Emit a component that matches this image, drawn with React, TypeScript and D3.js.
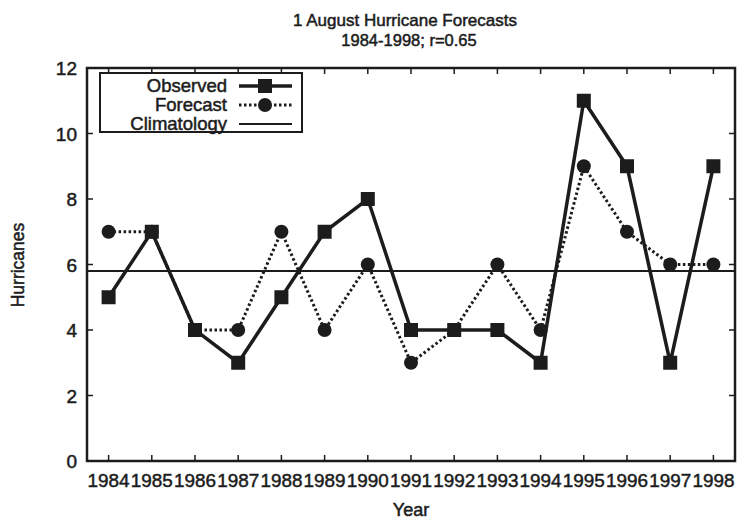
import React, { useRef, useEffect } from "react";
import * as d3 from "d3";

const years = [1984, 1985, 1986, 1987, 1988, 1989, 1990, 1991, 1992, 1993, 1994, 1995, 1996, 1997, 1998];
const observed = [5, 7, 4, 3, 5, 7, 8, 4, 4, 4, 3, 11, 9, 3, 9];
const forecast = [7, 7, 4, 4, 7, 4, 6, 3, 4, 6, 4, 9, 7, 6, 6];
const climatology = 5.8;
const yTicks = [0, 2, 4, 6, 8, 10, 12];
const legendItems = ["Observed", "Forecast", "Climatology"];

const W = 739, H = 521;
const ink = "#1c1c1c";
const font = "'Liberation Sans', Arial, Helvetica, sans-serif";

export default function App() {
  const svgRef = useRef<SVGSVGElement>(null);

  useEffect(() => {
    const svg = d3.select(svgRef.current);
    svg.selectAll("*").remove();
    const m = { left: 87, right: 739 - 735, top: 68, bottom: 521 - 461 };

    const x = d3.scaleLinear().domain([1983.5, 1998.5]).range([m.left, W - m.right]);
    const y = d3.scaleLinear().domain([0, 12]).range([H - m.bottom, m.top]);

    const g = svg.append("g");

    // heavier text, like the scanned original
    const txt = (sel: any, size: number) =>
      sel.style("font", `${size}px ${font}`).attr("fill", ink)
        .attr("stroke", ink).attr("stroke-width", 0.5);

    // titles
    txt(g.append("text").attr("x", 405).attr("y", 26).attr("text-anchor", "middle"), 17)
      .text("1 August Hurricane Forecasts");
    txt(g.append("text").attr("x", 409).attr("y", 46).attr("text-anchor", "middle"), 16.5)
      .text("1984-1998; r=0.65");
    txt(g.append("text").attr("x", 411).attr("y", 516).attr("text-anchor", "middle"), 18)
      .text("Year");
    txt(g.append("text").attr("transform", `translate(24,265) rotate(-90)`).attr("text-anchor", "middle"), 17.5)
      .text("Hurricanes");

    // ticks (inward, all four sides)
    const tl = 6;
    const ticks = g.append("g").attr("stroke", ink).attr("stroke-width", 1.5);
    years.forEach(yr => {
      ticks.append("line").attr("x1", x(yr)).attr("x2", x(yr)).attr("y1", y(0)).attr("y2", y(0) - tl);
      ticks.append("line").attr("x1", x(yr)).attr("x2", x(yr)).attr("y1", y(12)).attr("y2", y(12) + tl);
    });
    yTicks.forEach(v => {
      ticks.append("line").attr("x1", x(1983.5)).attr("x2", x(1983.5) + tl).attr("y1", y(v)).attr("y2", y(v));
      ticks.append("line").attr("x1", x(1998.5)).attr("x2", x(1998.5) - tl).attr("y1", y(v)).attr("y2", y(v));
    });

    // frame
    g.append("rect").attr("x", x(1983.5)).attr("y", y(12))
      .attr("width", x(1998.5) - x(1983.5)).attr("height", y(0) - y(12))
      .attr("fill", "none").attr("stroke", ink).attr("stroke-width", 2.5);

    // tick labels
    txt(g.append("g").selectAll("text").data(years).enter().append("text")
      .attr("x", d => x(d)).attr("y", y(0) + 26).attr("text-anchor", "middle")
      .attr("textLength", 42).attr("lengthAdjust", "spacingAndGlyphs"), 19).text(d => d);
    txt(g.append("g").selectAll("text").data(yTicks).enter().append("text")
      .attr("x", 77).attr("y", d => y(d) + 7).attr("text-anchor", "end"), 19).text(d => d);

    // climatology
    g.append("line").attr("x1", x(1983.5)).attr("x2", x(1998.5))
      .attr("y1", y(climatology)).attr("y2", y(climatology))
      .attr("stroke", ink).attr("stroke-width", 2);

    const line = d3.line<number>().x((_, i) => x(years[i])).y(d => y(d));

    // forecast
    g.append("path").attr("d", line(forecast)).attr("fill", "none")
      .attr("stroke", ink).attr("stroke-width", 3).attr("stroke-dasharray", "2.5,2.5");
    g.append("g").selectAll("circle").data(forecast).enter().append("circle")
      .attr("cx", (_, i) => x(years[i])).attr("cy", d => y(d)).attr("r", 7).attr("fill", ink);

    // observed
    g.append("path").attr("d", line(observed)).attr("fill", "none")
      .attr("stroke", ink).attr("stroke-width", 3.5);
    const sq = 14;
    g.append("g").selectAll("rect").data(observed).enter().append("rect")
      .attr("x", (_, i) => x(years[i]) - sq / 2).attr("y", d => y(d) - sq / 2)
      .attr("width", sq).attr("height", sq).attr("fill", ink);

    // legend
    const lg = g.append("g");
    lg.append("rect").attr("x", 100).attr("y", 73).attr("width", 202).attr("height", 59)
      .attr("fill", "white").attr("stroke", ink).attr("stroke-width", 2);
    legendItems.forEach((name, i) => {
      const cy = 86 + i * 19;
      txt(lg.append("text").attr("x", 227).attr("y", cy + 6).attr("text-anchor", "end"), 18.5)
        .text(name);
      const ln = lg.append("line").attr("x1", 239).attr("x2", 292).attr("y1", cy).attr("y2", cy)
        .attr("stroke", ink);
      if (i === 0) {
        ln.attr("stroke-width", 3.5);
        lg.append("rect").attr("x", 265 - sq / 2).attr("y", cy - sq / 2).attr("width", sq).attr("height", sq).attr("fill", ink);
      } else if (i === 1) {
        ln.attr("stroke-width", 3).attr("stroke-dasharray", "2.5,2.5");
        lg.append("circle").attr("cx", 265).attr("cy", cy).attr("r", 7).attr("fill", ink);
      } else {
        ln.attr("stroke-width", 2);
      }
    });
  }, []);

  return (
    <div style={{ position: "absolute", left: 0, top: 0 }}>
      <svg ref={svgRef} width={W} height={H} style={{ display: "block", background: "white" }} />
    </div>
  );
}
